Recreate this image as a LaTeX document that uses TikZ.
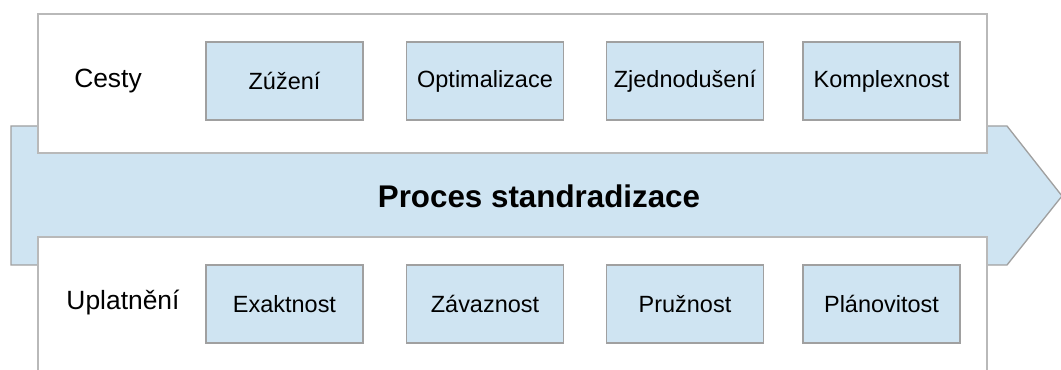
\documentclass[tikz,border=0pt]{standalone}
\usepackage{fontspec}
\setmainfont{Liberation Sans}
\definecolor{procblue}{RGB}{207,228,242}
\definecolor{edgegray}{RGB}{160,160,160}
\definecolor{panelgray}{RGB}{185,185,185}
\tikzset{
  panel/.style={draw=panelgray, line width=1.1pt, fill=white},
  trait/.style={draw=edgegray, line width=1.1pt, fill=procblue,
    minimum width=117.75pt, minimum height=58.5pt, inner sep=0pt,
    font=\fontsize{17.6}{21}\selectfont},
  rowlabel/.style={font=\fontsize{19.8}{23}\selectfont}
}
\begin{document}
\begin{tikzpicture}[x=0.75pt, y=-0.75pt]
  \useasboundingbox (0,0) rectangle (1061,370);

  % Process arrow
  \draw[draw=edgegray, line width=1pt, fill=procblue]
    (11,126) -- (1007,126) -- (1062,196) -- (1007,265) -- (11,265) -- cycle;
  \node[font=\fontsize{23.5}{28}\selectfont\bfseries] (proc) at (539,196) {Proces standradizace};

  % Panels
  \draw[panel] (38,14) rectangle (987,153);
  \draw[panel] (38,237) rectangle (987,400);

  % Top row: Cesty
  \node[rowlabel] (cesty) at (108,81) {Cesty};
  \node[trait] (zuz) at (284.5,81) {Zúžení};
  \node[trait] (opt) at (485,81) {Optimalizace};
  \node[trait] (zje) at (685,81) {Zjednodušení};
  \node[trait] (kom) at (881.5,81) {Komplexnost};

  % Bottom row: Uplatneni
  \node[rowlabel] (upl) at (123,303) {Uplatnění};
  \node[trait] (exa) at (284.5,304) {Exaktnost};
  \node[trait] (zav) at (485,304) {Závaznost};
  \node[trait] (pru) at (685,304) {Pružnost};
  \node[trait] (pla) at (881.5,304) {Plánovitost};
\end{tikzpicture}
\end{document}
